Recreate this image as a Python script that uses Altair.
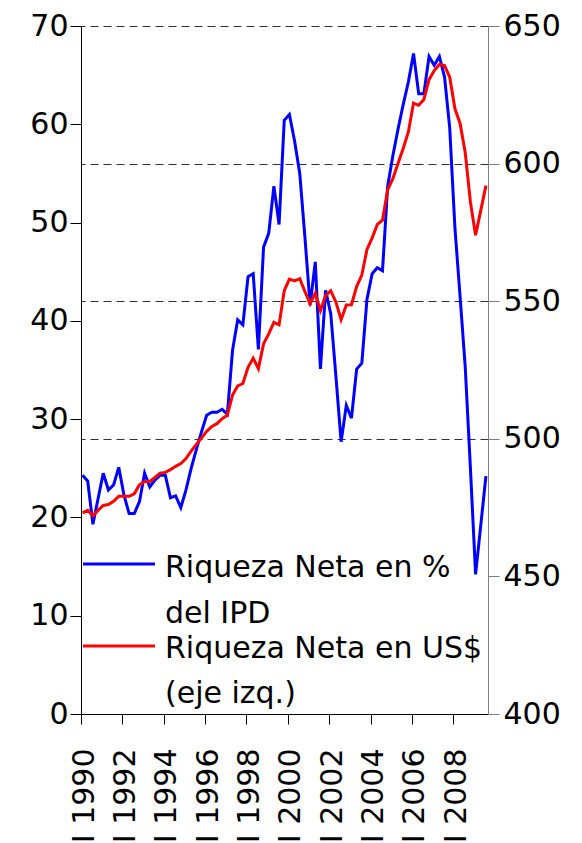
import altair as alt
import pandas as pd

# ---- data (quarterly, I-1990 .. III-2009) ----
blue_pct_ipd = [
    24.3, 23.7, 19.3, 21.9, 24.5, 22.8, 23.3, 25.1, 22.3, 20.4,
    20.4, 21.6, 24.5, 23.1, 23.8, 24.3, 24.3, 22.0, 22.2, 21.0,
    22.8, 25.0, 26.9, 28.7, 30.4, 30.7, 30.7, 31.0, 30.5, 37.0,
    40.1, 39.6, 44.5, 44.8, 37.1, 47.5, 48.9, 53.7, 49.8, 60.4,
    61.0, 58.3, 55.0, 48.5, 41.6, 46.0, 35.1, 43.1, 40.7, 34.3,
    27.7, 31.4, 30.1, 35.1, 35.7, 42.2, 44.8, 45.4, 45.1, 53.7,
    56.8, 59.5, 62.0, 64.3, 67.2, 63.1, 63.1, 66.9, 66.0, 66.9,
    64.8, 59.6, 49.5, 42.5, 35.3, 25.0, 14.2, 19.2, 24.2,
]
red_usd = [
    473.1, 474.0, 472.0, 474.0, 475.8, 476.1, 477.3, 479.1, 479.1, 479.1,
    480.0, 483.3, 484.5, 484.5, 486.0, 487.5, 487.8, 488.8, 490.0, 491.0,
    492.8, 495.5, 498.0, 500.3, 502.7, 504.5, 505.5, 507.3, 508.6, 515.9,
    519.2, 520.1, 526.0, 529.3, 525.5, 534.5, 538.1, 542.3, 541.4, 553.8,
    558.0, 557.4, 558.2, 553.5, 549.0, 552.9, 546.6, 552.0, 553.8, 549.6,
    543.3, 548.6, 548.7, 555.3, 559.5, 568.8, 573.0, 577.9, 579.4, 590.5,
    594.5, 600.0, 605.5, 611.5, 622.0, 621.2, 623.3, 630.5, 633.8, 636.0,
    635.6, 631.4, 620.0, 614.6, 604.0, 586.0, 574.0, 583.0, 592.0,
]
start_year = 1990
tick_years = [1990, 1992, 1994, 1996, 1998, 2000, 2002, 2004, 2006, 2008]
left_ticks = [0, 10, 20, 30, 40, 50, 60, 70]
right_ticks = [400, 450, 500, 550, 600, 650]
legend_lines = ["Riqueza Neta en %", "del IPD", "Riqueza Neta en US$", "(eje izq.)"]

BLUE = "#0000ff"
RED = "#ff0000"
FONT = "DejaVu Sans"

n = len(blue_pct_ipd)
df = pd.DataFrame({"t": list(range(n)), "pct": blue_pct_ipd, "usd": red_usd})

tick_vals = [(y - start_year) * 4 - 0.3 for y in tick_years]

x_enc = alt.X(
    "t:Q",
    scale=alt.Scale(domain=[-0.3, 78.4], nice=False, zero=False),
    axis=alt.Axis(
        values=tick_vals,
        labelExpr="'I ' + (1990 + round((datum.value + 0.3) / 4))",
        labelAngle=270,
        labelFont=FONT,
        labelFontSize=30,
        labelColor="black",
        labelPadding=24,
        labelOffset=3,
        labelOverlap=False,
        labelFlush=False,
        tickSize=10,
        tickColor="black",
        domainColor="black",
        grid=False,
        title=None,
    ),
)

blue = alt.Chart(df).mark_line(color=BLUE, strokeWidth=3).encode(
    x=x_enc,
    y=alt.Y(
        "pct:Q",
        scale=alt.Scale(domain=[0, 70], nice=False),
        axis=alt.Axis(
            orient="left",
            values=left_ticks,
            tickSize=11,
            tickColor="black",
            domainColor="black",
            labelFont=FONT,
            labelFontSize=30,
            labelColor="black",
            labelPadding=2,
            grid=False,
            title=None,
        ),
    ),
)

red = alt.Chart(df).mark_line(color=RED, strokeWidth=3).encode(
    x=x_enc,
    y=alt.Y(
        "usd:Q",
        scale=alt.Scale(domain=[400, 650], nice=False, zero=False),
        axis=alt.Axis(
            orient="right",
            values=right_ticks,
            tickSize=11,
            tickColor="#7f7f7f",
            domainColor="#7f7f7f",
            labelFont=FONT,
            labelFontSize=30,
            labelColor="black",
            labelPadding=4,
            grid=True,
            gridColor="#333333",
            gridDash=[8, 5],
            gridWidth=1,
            gridOpacity=alt.condition("datum.value <= 450", alt.value(0), alt.value(1)),
            title=None,
        ),
    ),
)

# ---- legend (drawn inside plot, bottom-left) ----
def one(txt):
    return pd.DataFrame({"label": [txt]})

leg_blue = alt.Chart(one("b")).mark_rule(color=BLUE, strokeWidth=3).encode(
    x=alt.value(2), x2=alt.value(74), y=alt.value(538)
)
leg_red = alt.Chart(one("r")).mark_rule(color=RED, strokeWidth=3).encode(
    x=alt.value(2), x2=alt.value(74), y=alt.value(620)
)
text_y = [551, 597, 632, 677]
leg_texts = [
    alt.Chart(one(line)).mark_text(
        font=FONT, fontSize=30, align="left", baseline="alphabetic", color="black"
    ).encode(x=alt.value(84), y=alt.value(yy), text="label:N")
    for line, yy in zip(legend_lines, text_y)
]

chart = (
    alt.layer(blue, red, leg_blue, leg_red, *leg_texts)
    .resolve_scale(y="independent")
    .properties(
        width=407,
        height=688,
        autosize=alt.AutoSizeParams(type="none"),
        padding={"left": 73, "top": 18, "right": 86, "bottom": 140},
        background="white",
    )
    .configure_view(strokeWidth=0)
)

chart.save("out.html", embed_options={"renderer": "svg", "actions": False})
